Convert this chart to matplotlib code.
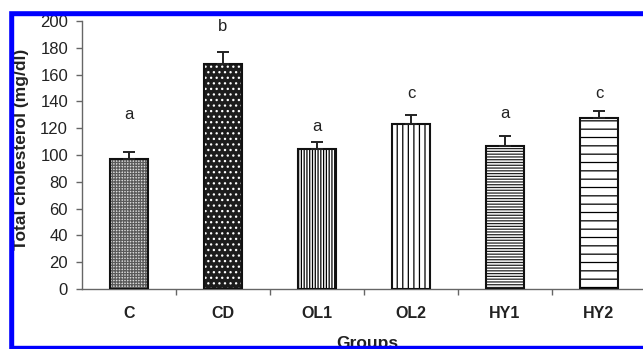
import matplotlib.pyplot as plt
import numpy as np
from matplotlib.patches import Rectangle

plt.rcParams.update({"font.family": ["Liberation Sans", "DejaVu Sans"], "hatch.linewidth": 0.9})

groups = ['C', 'CD', 'OL1', 'OL2', 'HY1', 'HY2']
chol = [97, 168, 104.5, 123, 106.5, 127.5]
err = [5.5, 9, 5.5, 7, 7.5, 5.5]
letters = ['a', 'b', 'a', 'c', 'a', 'c']

# where the letters sit (data units)
letter_y = [130, 196, 121, 146, 131, 146]

faces = ['#dcdcdc', '#1c1c1c', 'white', 'white', 'white', 'white']
hatches = ['++++++', '...', '||||||', '|||', '------', '--']
hcolors = ['#5a5a5a', 'white', 'black', 'black', '#222222', 'black']

fig = plt.figure(figsize=(6.43, 3.49), dpi=100)
ax = fig.add_axes([82 / 643, 60 / 349, 564 / 643, 268 / 349])

x = np.arange(len(groups))
for i in range(len(groups)):
    ax.bar(x[i], chol[i], width=0.4, color=faces[i], hatch=hatches[i], edgecolor=hcolors[i], linewidth=0, zorder=2)
    ax.bar(x[i], chol[i], width=0.4, fill=False, edgecolor='#111111', linewidth=1.5, zorder=3)
    ax.text(x[i], letter_y[i], letters[i], ha='center', va='center', fontsize=12, color='#222222')

ax.errorbar(x, chol, yerr=[np.zeros(len(err)), err], fmt='none', ecolor='#222222', elinewidth=1.4, capsize=4, capthick=1.4, zorder=4)

ax.set_xlim(-0.5, 5.5)
ax.set_ylim(0, 200)
ax.set_yticks(np.arange(0, 201, 20))
ax.tick_params(axis='y', length=4, width=1, color='#666666', pad=6, labelsize=12, labelcolor='#222222')

ax.set_xticks(np.arange(0.5, 5.5, 1))
ax.set_xticklabels([])
ax.tick_params(axis='x', which='major', length=4, width=1, color='#666666')
ax.set_xticks(x, minor=True)
ax.set_xticklabels(groups, minor=True, fontweight='bold', fontsize=11.5)
ax.tick_params(axis='x', which='minor', length=0, pad=12, labelcolor='#222222')

for s in ['top', 'right']:
    ax.spines[s].set_visible(False)
for s in ['left', 'bottom']:
    ax.spines[s].set_color('#666666')
    ax.spines[s].set_linewidth(1)

ax.set_ylabel('Total cholesterol (mg/dl)', fontweight='bold', fontsize=12.5, color='#222222')
ax.yaxis.set_label_coords((29 - 82) / 564, (349 - 149 - 60) / 268)
ax.set_xlabel('Groups', fontweight='bold', fontsize=12.5, color='#222222')
ax.xaxis.set_label_coords((367 - 82) / 564, (349 - 336 - 60) / 268)

# blue frame round the picture
blue = '#0000ff'
fig.patches.append(Rectangle((8 / 643, 0), 5 / 643, 339 / 349, transform=fig.transFigure, color=blue, zorder=10))
fig.patches.append(Rectangle((8 / 643, 334 / 349), 635 / 643, 5 / 349, transform=fig.transFigure, color=blue, zorder=10))
fig.patches.append(Rectangle((8 / 643, 0), 635 / 643, 3 / 349, transform=fig.transFigure, color=blue, zorder=10))
fig.patches.append(Rectangle((0, 339 / 349), 1, 10 / 349, transform=fig.transFigure, color='white', zorder=10))
fig.patches.append(Rectangle((0, 0), 8 / 643, 1, transform=fig.transFigure, color='white', zorder=10))

plt.savefig('out.png', dpi=100)
